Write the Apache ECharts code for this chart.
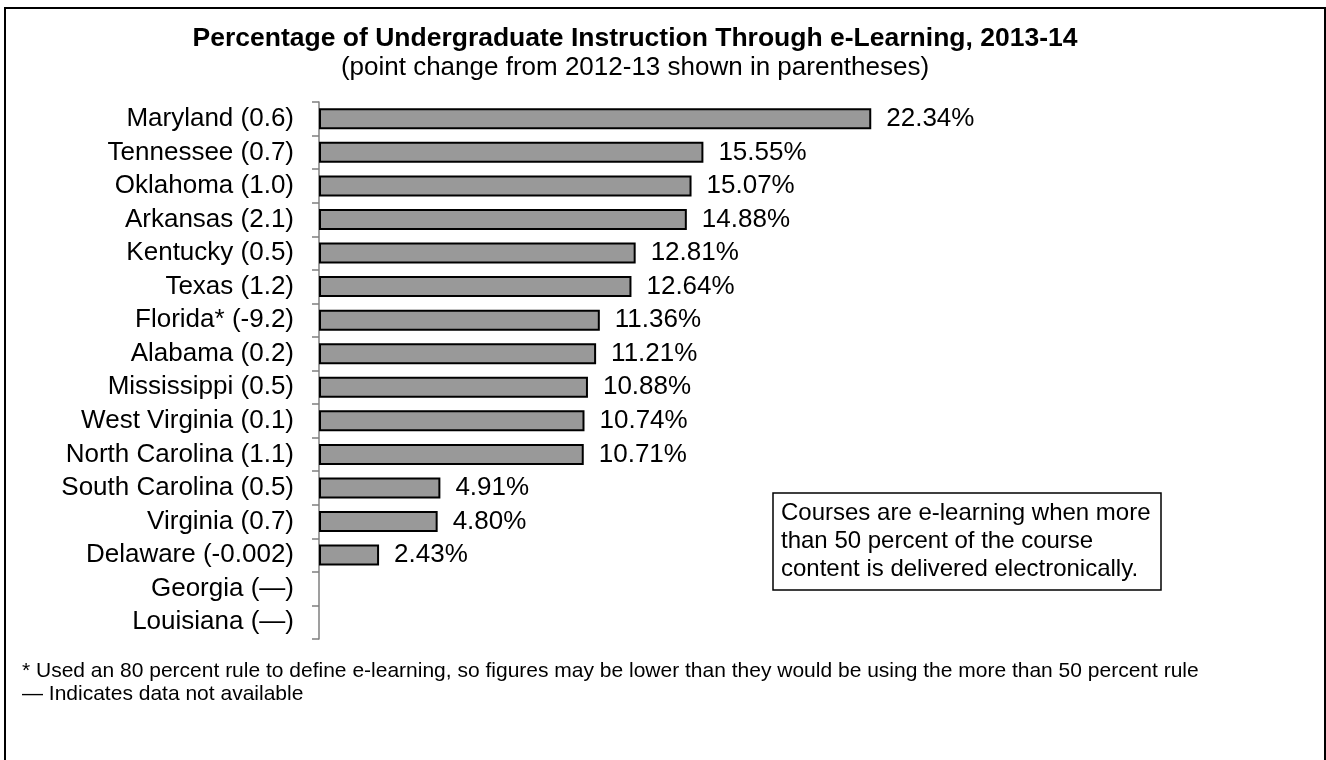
<!DOCTYPE html>
<html>
<head>
<meta charset="utf-8">
<script src="https://cdn.jsdelivr.net/npm/echarts@6/dist/echarts.min.js"></script>
<style>
  html, body { margin: 0; padding: 0; background: #ffffff; }
  #chart { width: 1326px; height: 760px; }
</style>
</head>
<body>
<div id="chart"></div>
<script>
// states, with point change from 2012-13 in the label
const states = [
  "Maryland (0.6)", "Tennessee (0.7)", "Oklahoma (1.0)", "Arkansas (2.1)",
  "Kentucky (0.5)", "Texas (1.2)", "Florida* (-9.2)", "Alabama (0.2)",
  "Mississippi (0.5)", "West Virginia (0.1)", "North Carolina (1.1)",
  "South Carolina (0.5)", "Virginia (0.7)", "Delaware (-0.002)",
  "Georgia (\u2014)", "Louisiana (\u2014)"
];
// percent of undergrad instruction via e-learning, 2013-14 ("-" = not available)
const pct = [22.34, 15.55, 15.07, 14.88, 12.81, 12.64, 11.36, 11.21,
             10.88, 10.74, 10.71, 4.91, 4.80, 2.43, "-", "-"];

const titleText = "Percentage of Undergraduate Instruction Through e-Learning, 2013-14";
const subText = "(point change from 2012-13 shown in parentheses)";
const noteText = "Courses are e-learning when more\nthan 50 percent of the course\ncontent is delivered electronically.";
const footnotes = "* Used an 80 percent rule to define e-learning, so figures may be lower than they would be using the more than 50 percent rule\n\u2014 Indicates data not available";

const font = "Liberation Sans, Arial, sans-serif";

const chart = echarts.init(document.getElementById("chart"));
chart.setOption({
  backgroundColor: "#ffffff",
  animation: false,
  title: [
    {
      text: titleText,
      left: 630, top: 20, textAlign: "center",
      textStyle: { fontFamily: font, fontSize: 26.5, fontWeight: "bold", color: "#000" }
    },
    {
      text: subText,
      left: 630, top: 50, textAlign: "center",
      textStyle: { fontFamily: font, fontSize: 26, fontWeight: "normal", color: "#000" }
    }
  ],
  grid: { left: 319, top: 102, width: 618, height: 537 },
  xAxis: { type: "value", min: 0, max: 25, show: false },
  yAxis: {
    type: "category",
    data: states,
    inverse: true,
    axisLine: { show: true, lineStyle: { color: "#7f7f7f", width: 1.5 } },
    axisTick: { show: true, length: 7, lineStyle: { color: "#7f7f7f", width: 1.5 } },
    axisLabel: { interval: 0, margin: 25, fontFamily: font, fontSize: 26, color: "#000" }
  },
  series: [{
    type: "bar",
    data: pct,
    barWidth: 21,
    itemStyle: { color: "#999999", borderColor: "#000", borderWidth: 2 },
    label: {
      show: true,
      position: "right",
      distance: 15,
      fontFamily: font, fontSize: 26, color: "#000",
      formatter: function (p) {
        return typeof p.value === "number" ? p.value.toFixed(2) + "%" : "";
      }
    }
  }],
  graphic: [
    {
      type: "rect",
      shape: { x: 5, y: 8, width: 1320, height: 780 },
      style: { fill: "none", stroke: "#000", lineWidth: 2 },
      silent: true
    },
    {
      type: "rect",
      shape: { x: 773, y: 493, width: 388, height: 97 },
      style: { fill: "#fff", stroke: "#000", lineWidth: 1.5 }
    },
    {
      type: "text",
      left: 781, top: 499,
      style: { text: noteText, fontFamily: font, fontSize: 24, lineHeight: 28, fill: "#000" }
    },
    {
      type: "text",
      left: 22, top: 660,
      style: { text: footnotes, fontFamily: font, fontSize: 21, lineHeight: 23, fill: "#000" }
    }
  ]
});
</script>
</body>
</html>
